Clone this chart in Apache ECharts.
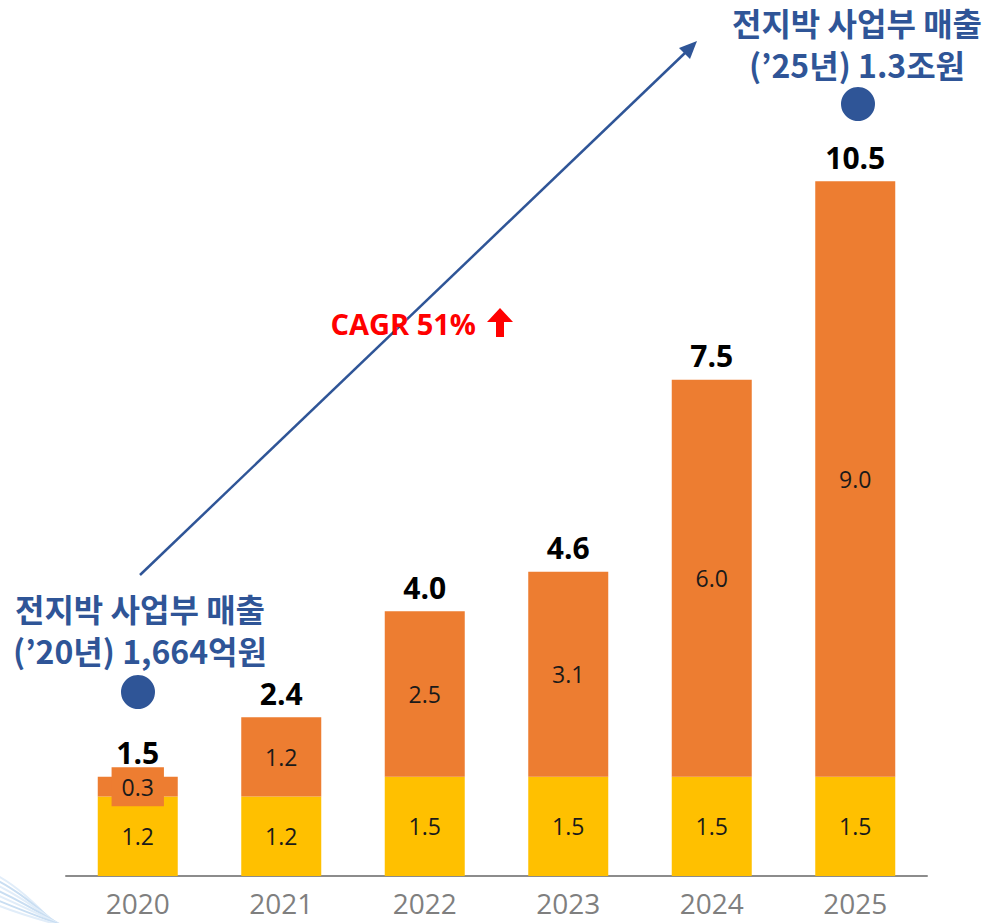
<!DOCTYPE html>
<html>
<head>
<meta charset="utf-8">
<script src="https://cdn.jsdelivr.net/npm/echarts@6/dist/echarts.min.js"></script>
<style>
  html, body { margin: 0; padding: 0; background: #fff; }
  #chart { width: 991px; height: 923px; }
</style>
</head>
<body>
<div id="chart"></div>
<script>
const years = ['2020', '2021', '2022', '2023', '2024', '2025'];
const baseValues = [1.2, 1.2, 1.5, 1.5, 1.5, 1.5];
const growthValues = [0.3, 1.2, 2.5, 3.1, 6.0, 9.0];
const totalValues = [1.5, 2.4, 4.0, 4.6, 7.5, 10.5];

const noteStart = ['전지박 사업부 매출', '(’20년) 1,664억원'];
const noteEnd = ['전지박 사업부 매출', '(’25년) 1.3조원'];
const cagrText = 'CAGR 51%';

const blue = '#2F5597';
const yellow = '#FFC000';
const orange = '#ED7D31';
const kr = '"Noto Sans CJK KR", "Noto Sans", sans-serif';
const num = '"Open Sans", "Noto Sans", sans-serif';

const container = document.getElementById('chart');
const chart = echarts.init(container, null, { renderer: 'svg', width: 991, height: 923 });

const innerLabel = {
  show: true,
  position: 'inside',
  color: '#1a1a1a',
  fontFamily: num,
  fontSize: 23,
  formatter: p => p.value.toFixed(1)
};

// bottom-left swoosh decoration
const swoosh = [];
for (let i = 0; i < 7; i++) {
  swoosh.push({
    type: 'bezierCurve',
    silent: true,
    shape: { x1: -10, y1: 872 + i * 5, x2: 60 + i * 3, y2: 930, cpx1: 20, cpy1: 885 + i * 5 },
    style: { stroke: i % 2 ? '#c9def2' : '#e1edf9', lineWidth: 2, fill: null }
  });
}

chart.setOption({
  animation: false,
  grid: { left: 66, right: 64, top: 82, bottom: 47 },
  xAxis: {
    type: 'category',
    data: years,
    axisLine: { lineStyle: { color: '#8c8c8c', width: 2 } },
    axisTick: { show: false },
    axisLabel: { color: '#7f7f7f', fontSize: 28, lineHeight: 28, fontFamily: num, margin: 13 }
  },
  yAxis: {
    type: 'value',
    min: 0,
    max: 12,
    show: false,
    splitLine: { show: false }
  },
  series: [
    {
      name: 'base',
      type: 'bar',
      stack: 'sales',
      barWidth: 80,
      data: baseValues,
      itemStyle: { color: yellow },
      label: innerLabel
    },
    {
      name: 'growth',
      type: 'bar',
      stack: 'sales',
      barWidth: 80,
      data: growthValues.map((v, i) => i === 0 ? {
        value: v,
        label: { backgroundColor: orange, padding: [7, 10], lineHeight: 25 }
      } : v),
      itemStyle: { color: orange },
      label: innerLabel
    },
    {
      name: 'total',
      type: 'bar',
      barWidth: 80,
      barGap: '-100%',
      z: 1,
      data: totalValues,
      itemStyle: { color: 'rgba(0,0,0,0)' },
      label: {
        show: true,
        position: 'top',
        distance: 9,
        color: '#000',
        fontWeight: 'bold',
        fontFamily: num,
        fontSize: 30,
        formatter: p => p.value.toFixed(1)
      }
    }
  ],
  graphic: swoosh.concat([
    {
      type: 'line',
      silent: true,
      shape: { x1: 140, y1: 575, x2: 686, y2: 52 },
      style: { stroke: blue, lineWidth: 2.5 }
    },
    {
      type: 'polygon',
      silent: true,
      shape: { points: [[697, 41], [679, 48], [690, 59]] },
      style: { fill: blue }
    },
    {
      type: 'circle',
      silent: true,
      shape: { cx: 138, cy: 692, r: 17 },
      style: { fill: blue }
    },
    {
      type: 'circle',
      silent: true,
      shape: { cx: 858, cy: 104, r: 17 },
      style: { fill: blue }
    },
    {
      type: 'text',
      silent: true,
      x: 140, y: 587,
      style: {
        text: noteStart.join('\n'),
        fill: blue, fontFamily: kr, fontWeight: 'bold', fontSize: 32, lineHeight: 42,
        align: 'center', verticalAlign: 'top'
      }
    },
    {
      type: 'text',
      silent: true,
      x: 857, y: 1,
      style: {
        text: noteEnd.join('\n'),
        fill: blue, fontFamily: kr, fontWeight: 'bold', fontSize: 32, lineHeight: 42,
        align: 'center', verticalAlign: 'top'
      }
    },
    {
      type: 'text',
      silent: true,
      x: 476, y: 323,
      style: {
        text: cagrText,
        fill: '#FF0000', fontFamily: num, fontWeight: 'bold', fontSize: 29,
        align: 'right', verticalAlign: 'middle'
      }
    },
    {
      type: 'polygon',
      silent: true,
      shape: { points: [[500, 308], [513, 322], [504, 322], [504, 337], [496, 337], [496, 322], [487, 322]] },
      style: { fill: '#FF0000' }
    }
  ])
});
</script>
</body>
</html>
